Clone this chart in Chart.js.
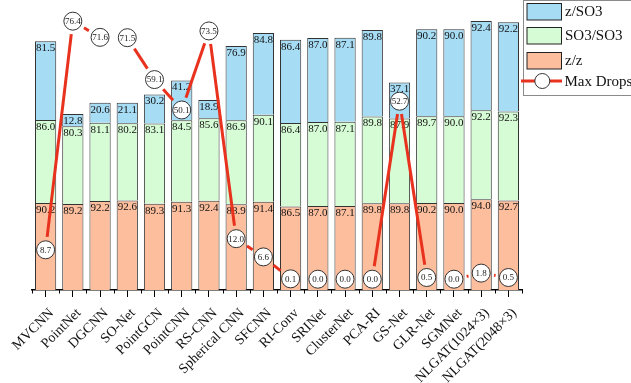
<!DOCTYPE html>
<html>
<head>
<meta charset="utf-8">
<script src="https://cdn.jsdelivr.net/npm/chart.js@4/dist/chart.umd.min.js"></script>
<style>
  html, body { margin: 0; padding: 0; background: #fff; }
  #wrap { width: 631px; height: 383px; position: relative; }
</style>
</head>
<body>
<div id="wrap"><canvas id="c"></canvas></div>
<script>
// Methods on the x axis
const methods = ['MVCNN', 'PointNet', 'DGCNN', 'SO-Net', 'PointGCN', 'PointCNN', 'RS-CNN',
  'Spherical CNN', 'SFCNN', 'RI-Conv', 'SRINet', 'ClusterNet', 'PCA-RI', 'GS-Net',
  'GLR-Net', 'SGMNet', 'NLGAT(1024×3)', 'NLGAT(2048×3)'];

// Classification accuracy (%) under the three train/test rotation settings
const zz = [90.2, 89.2, 92.2, 92.6, 89.3, 91.3, 92.4, 88.9, 91.4, 86.5, 87.0, 87.1, 89.8, 89.8, 90.2, 90.0, 94.0, 92.7];
const so3so3 = [86.0, 80.3, 81.1, 80.2, 83.1, 84.5, 85.6, 86.9, 90.1, 86.4, 87.0, 87.1, 89.8, 87.9, 89.7, 90.0, 92.2, 92.3];
const zso3 = [81.5, 12.8, 20.6, 21.1, 30.2, 41.2, 18.9, 76.9, 84.8, 86.4, 87.0, 87.1, 89.8, 37.1, 90.2, 90.0, 92.4, 92.2];

// Largest accuracy drop between settings
const maxDrops = [8.7, 76.4, 71.6, 71.5, 59.1, 50.1, 73.5, 12.0, 6.6, 0.1, 0.0, 0.0, 0.0, 52.7, 0.5, 0.0, 1.8, 0.5];

const COL_ZSO3 = '#A7DCF5';
const COL_SO3 = '#D6FCD5';
const COL_ZZ = '#FDBE9E';
const COL_RED = '#E8321E';
const SERIF = '"Liberation Serif", "Times New Roman", serif';

const POINT_R = 9;
const LINE_GAP = 13; // distance kept clear between the drop line and each marker centre
const MIN_DASH = 1.5; // shorter remnants are not drawn

const barDatasets = [
  { label: 'z/z', data: zz, backgroundColor: COL_ZZ },
  { label: 'SO3/SO3', data: so3so3, backgroundColor: COL_SO3 },
  { label: 'z/SO3', data: zso3, backgroundColor: COL_ZSO3 }
].map(d => Object.assign(d, {
  type: 'bar', yAxisID: 'y', stack: 'acc', order: 2,
  borderColor: '#333', borderWidth: 1, borderSkipped: 'start',
  categoryPercentage: 1.0, barPercentage: 0.78
}));

const dropDataset = {
  type: 'line', label: 'Max Drops', data: maxDrops, yAxisID: 'y2', order: 0,
  showLine: false, clip: false,
  pointRadius: POINT_R, pointHoverRadius: POINT_R,
  pointBackgroundColor: '#fff', pointBorderColor: '#333', pointBorderWidth: 1,
  borderColor: COL_RED
};

const overlay = {
  id: 'overlay',
  beforeDatasetDraw(chart, args) {
    if (args.meta.type !== 'line') return;
    const ctx = chart.ctx;
    // value labels at the top of each bar segment
    ctx.save();
    ctx.font = '11px ' + SERIF;
    ctx.fillStyle = '#111';
    ctx.textAlign = 'center';
    ctx.textBaseline = 'middle';
    for (let d = 0; d < 3; d++) {
      const meta = chart.getDatasetMeta(d);
      const vals = chart.data.datasets[d].data;
      meta.data.forEach((bar, i) => {
        ctx.fillText(vals[i].toFixed(1), bar.x, bar.y + 7);
      });
    }
    // drop line, interrupted around each marker
    const pts = args.meta.data;
    ctx.strokeStyle = COL_RED;
    ctx.lineWidth = 3;
    ctx.lineCap = 'butt';
    for (let i = 0; i < pts.length - 1; i++) {
      const a = pts[i], b = pts[i + 1];
      const dx = b.x - a.x, dy = b.y - a.y;
      const len = Math.hypot(dx, dy);
      if (len - 2 * LINE_GAP < MIN_DASH) continue;
      const ux = dx / len, uy = dy / len;
      ctx.beginPath();
      ctx.moveTo(a.x + ux * LINE_GAP, a.y + uy * LINE_GAP);
      ctx.lineTo(b.x - ux * LINE_GAP, b.y - uy * LINE_GAP);
      ctx.stroke();
    }
    ctx.restore();
  },
  afterDatasetsDraw(chart) {
    const ctx = chart.ctx;
    const meta = chart.getDatasetMeta(3);
    ctx.save();
    ctx.font = '9px ' + SERIF;
    ctx.fillStyle = '#222';
    ctx.textAlign = 'center';
    ctx.textBaseline = 'middle';
    meta.data.forEach((p, i) => ctx.fillText(maxDrops[i].toFixed(1), p.x, p.y + 0.5));

    // short boundary ticks between categories
    const xs = chart.scales.x;
    const step = xs.getPixelForValue(1) - xs.getPixelForValue(0);
    const yb = chart.chartArea.bottom;
    ctx.strokeStyle = '#000';
    ctx.lineWidth = 1;
    ctx.beginPath();
    for (let i = 0; i <= methods.length; i++) {
      const x = Math.round(xs.getPixelForValue(0) - step / 2 + i * step) + 0.5;
      ctx.moveTo(x, yb);
      ctx.lineTo(x, yb + 3.5);
    }
    ctx.stroke();

    // legend box
    ctx.strokeStyle = '#8a8a8a';
    ctx.lineWidth = 1;
    ctx.strokeRect(523.5, 0.5, 120, 95);
    const items = [
      { label: 'z/SO3', color: COL_ZSO3, y: 3.5 },
      { label: 'SO3/SO3', color: COL_SO3, y: 27.5 },
      { label: 'z/z', color: COL_ZZ, y: 52.5 }
    ];
    ctx.font = '15px ' + SERIF;
    ctx.textAlign = 'left';
    ctx.textBaseline = 'middle';
    items.forEach(it => {
      ctx.fillStyle = it.color;
      ctx.fillRect(527, it.y, 34.5, 16.5);
      ctx.strokeStyle = '#222';
      ctx.strokeRect(527, it.y, 34.5, 16.5);
      ctx.fillStyle = '#111';
      ctx.fillText(it.label, 565, it.y + 9);
    });
    ctx.strokeStyle = COL_RED;
    ctx.lineWidth = 3;
    ctx.beginPath();
    ctx.moveTo(521, 81);
    ctx.lineTo(562, 81);
    ctx.stroke();
    ctx.beginPath();
    ctx.arc(542.3, 81, 7.5, 0, Math.PI * 2);
    ctx.fillStyle = '#fff';
    ctx.fill();
    ctx.strokeStyle = '#333';
    ctx.lineWidth = 1;
    ctx.stroke();
    ctx.fillStyle = '#111';
    ctx.fillText('Max Drops', 564.5, 82);
    ctx.restore();
  }
};

new Chart(document.getElementById('c'), {
  data: {
    labels: methods,
    datasets: [...barDatasets, dropDataset]
  },
  options: {
    responsive: true,
    maintainAspectRatio: false,
    animation: false,
    events: [],
    layout: { padding: { left: 32, right: 109, top: 5, bottom: 0 } },
    plugins: { legend: { display: false }, tooltip: { enabled: false } },
    scales: {
      x: {
        type: 'category',
        stacked: true,
        offset: true,
        grid: { display: true, offset: false, drawOnChartArea: false, tickLength: 7, color: '#000', lineWidth: 1 },
        border: { display: true, color: '#000', width: 1.5 },
        ticks: {
          maxRotation: 45, minRotation: 45, autoSkip: false, padding: 8, labelOffset: 6,
          color: '#111', font: { family: SERIF, size: 14 }
        },
        afterFit(scale) {
          scale.height = 93;
          scale.paddingLeft = 0;
          scale.paddingRight = 0;
        }
      },
      y: { display: false, stacked: true, min: 0, max: 290 },
      y2: { display: false, min: -3.2, max: 79.7 }
    }
  },
  plugins: [overlay]
});
</script>
</body>
</html>
